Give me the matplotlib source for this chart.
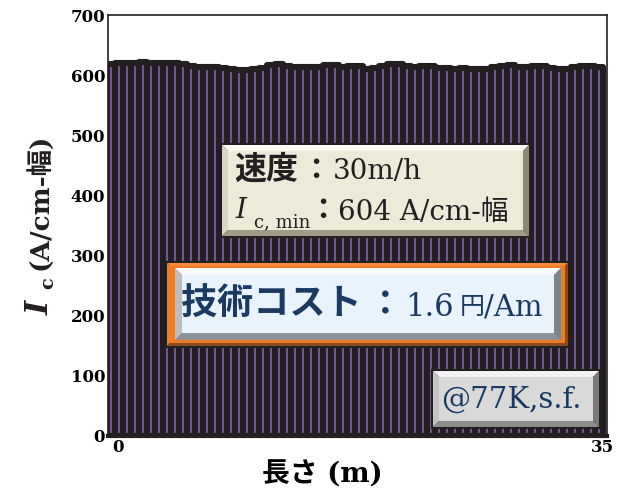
import matplotlib
matplotlib.use("Agg")
import matplotlib.pyplot as plt
from matplotlib.patches import Polygon
import numpy as np

plt.rcParams['font.family'] = ['DejaVu Serif', 'Noto Sans CJK JP']

# sample positions along the tape (m) and measured Ic (A/cm-width)
length_m = np.arange(62) * 0.577 - 0.5
ic_values = [618, 620, 620, 621, 622, 621, 620, 621, 621, 619,
             615, 614, 614, 613, 612, 610, 609, 609, 610, 612,
             617, 618, 616, 613, 613, 614, 614, 617, 617, 613,
             616, 615, 611, 612, 616, 618, 618, 616, 613, 616,
             615, 612, 612, 611, 612, 610, 611, 611, 613, 616,
             617, 614, 613, 615, 615, 612, 611, 611, 614, 615,
             615, 614]
y_ticks = [0, 100, 200, 300, 400, 500, 600, 700]
x_ticks = [0, 35]

W, H = 617, 493
fig = plt.figure(figsize=(W / 100, H / 100), dpi=100)
ax = fig.add_axes([108 / W, 1 - 436 / H, (607 - 108) / W, (436 - 15) / H])

ax.bar(length_m, ic_values, width=0.577, color='#7d5aa6',
       edgecolor='#231f20', linewidth=4.4, joinstyle='round', zorder=2)

ax.set_xlim(-0.7, 35.3)
ax.set_ylim(0, 700)
ax.set_yticks(y_ticks)
ax.set_xticks(x_ticks)
ax.tick_params(length=0, labelsize=12, pad=2)
for lb in ax.get_xticklabels() + ax.get_yticklabels():
    lb.set_fontweight('bold')
for s in ax.spines.values():
    s.set_linewidth(1.2)
    s.set_color('#231f20')
ax.spines['bottom'].set_linewidth(3)

ax.set_xlabel('長さ (m)', fontsize=20, fontweight='bold', labelpad=4)
ax.xaxis.set_label_coords(0.43, -0.06)


def px(x, y):
    return (x / W, 1 - y / H)


def poly(pts, color, z=10, ec='none', lw=0):
    fig.patches.append(Polygon([px(*p) for p in pts], closed=True, facecolor=color,
                               edgecolor=ec, linewidth=lw, transform=fig.transFigure,
                               zorder=z, figure=fig))


def bevel(x0, y0, x1, y1, face, top, left, bottom, right, b, edge='#231f20'):
    poly([(x0 - 2, y0 - 2), (x1 + 2, y0 - 2), (x1 + 2, y1 + 2), (x0 - 2, y1 + 2)], edge)
    poly([(x0, y0), (x1, y0), (x1 - b, y0 + b), (x0 + b, y0 + b)], top)
    poly([(x0, y0), (x0 + b, y0 + b), (x0 + b, y1 - b), (x0, y1)], left)
    poly([(x0, y1), (x1, y1), (x1 - b, y1 - b), (x0 + b, y1 - b)], bottom)
    poly([(x1, y0), (x1, y1), (x1 - b, y1 - b), (x1 - b, y0 + b)], right)
    poly([(x0 + b, y0 + b), (x1 - b, y0 + b), (x1 - b, y1 - b), (x0 + b, y1 - b)], face)


def txt(x, y, s, size, color='#231f20', weight='normal', style='normal',
        ha='left', va='center', rot=0):
    fig.text(x / W, 1 - y / H, s, fontsize=size, color=color, fontweight=weight,
             fontstyle=style, ha=ha, va=va, rotation=rot, zorder=20)


# y-axis label: I_c (A/cm-幅), rotated
txt(40, 315, 'I', 22, weight='bold', style='italic', ha='center', va='bottom', rot=90)
txt(48, 289, 'c', 14, weight='bold', ha='center', va='bottom', rot=90)
txt(39, 270, '(A/cm-幅)', 19, weight='bold', ha='center', va='bottom', rot=90)

# speed / Ic,min box
bevel(222, 145, 529, 236, '#edeada', '#fbfaf2', '#d9d6c4', '#9e9b87', '#8c8976', 6)
txt(234, 170, '速度', 23, weight='bold')
txt(301, 170, '：', 21, weight='bold')
txt(333, 172, '30m/h', 20)
txt(235, 211, 'I', 20, style='italic')
txt(254, 222, 'c, min', 13)
txt(308, 211, '：', 21, weight='bold')
txt(338, 213, '604 A/cm-幅', 20)

# cost box
bevel(167, 263, 568, 346, '#f07b25', '#f5893a', '#f07b25', '#8b4a1e', '#8b4a1e', 3)
bevel(175, 268, 561, 340, '#e9f3fc', '#f6fafe', '#b7bec6', '#8d9297', '#7d8388', 7,
      edge='#f07b25')
navy = '#1b3a63'
txt(181, 305, '技術コスト', 26, color=navy, weight='bold')
txt(368, 305, '：', 25, color=navy, weight='bold')
txt(405, 307, '1.6', 22, color=navy)
txt(460, 307, '円', 18, color=navy)
txt(484, 307, '/Am', 21, color=navy)

# temperature box
bevel(433, 371, 599, 427, '#d9d9d9', '#f2f2f2', '#c4c4c4', '#8e8e8e', '#7a7a7a', 6)
txt(441, 400, '@77K,s.f.', 21, color=navy)

fig.savefig('out.png', dpi=100)
